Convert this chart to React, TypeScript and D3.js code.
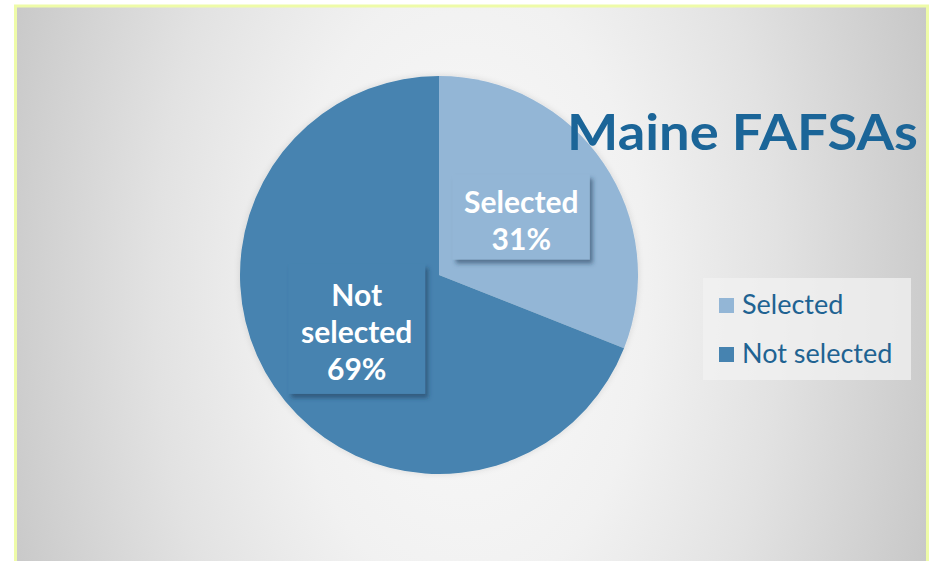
import React from "react";
import * as d3 from "d3";

const categories = ["Selected", "Not selected"];
const values = [31, 69];
const sliceColors = ["#93B6D6", "#4683B0"];
const labelLines = [["Selected", "31%"], ["Not", "selected", "69%"]];
const title = "Maine FAFSAs";

const W = 932;
const H = 561;
const FONT = "Lato, 'Open Sans', sans-serif";

export default function App() {
  const cx = 439;
  const cy = 275;
  const R = 199;
  const pie = d3.pie<number>().sort(null).startAngle(0).endAngle(2 * Math.PI);
  const arcs = pie(values);
  const arc = d3.arc<d3.PieArcDatum<number>>().innerRadius(0).outerRadius(R);
  const lineH = 37;
  const boxW = 137;

  return (
    <div style={{ position: "absolute", left: 0, top: 0 }}>
      <svg width={W} height={H} style={{ display: "block" }}>
        <defs>
          <radialGradient id="bg" gradientUnits="userSpaceOnUse" cx={466} cy={290} r={520}
            gradientTransform="translate(466 290) scale(1 1.7) translate(-466 -290)">
            <stop offset="0" stopColor="#fafafa" />
            <stop offset="0.35" stopColor="#f1f1f1" />
            <stop offset="0.6" stopColor="#e2e2e2" />
            <stop offset="1" stopColor="#c3c3c3" />
          </radialGradient>
          <filter id="boxShadow" x="-20%" y="-20%" width="150%" height="150%">
            <feDropShadow dx="3" dy="4" stdDeviation="2" floodColor="#1d3a55" floodOpacity="0.55" />
          </filter>
          <filter id="pieShadow" x="-10%" y="-10%" width="120%" height="120%">
            <feDropShadow dx="0" dy="0" stdDeviation="3" floodColor="#000" floodOpacity="0.12" />
          </filter>
        </defs>
        <rect x={0} y={0} width={W} height={H} fill="#ffffff" />
        <rect x={15.5} y={6} width={912} height={H} fill="url(#bg)" stroke="#EEFBA8" strokeWidth={3} />

        <g transform={`translate(${cx},${cy})`} filter="url(#pieShadow)">
          {arcs.map((a, i) => (
            <path key={categories[i]} d={arc(a) || ""} fill={sliceColors[i]} />
          ))}
        </g>

        {arcs.map((a, i) => {
          const [lx, ly] = arc.centroid(a);
          const lines = labelLines[i];
          const h = lines.length * lineH + (lines.length > 2 ? 19 : 11);
          const x0 = cx + lx - boxW / 2;
          const y0 = cy + ly - h / 2 - 2;
          return (
            <g key={"lab" + i}>
              <rect x={x0} y={y0} width={boxW} height={h} fill={sliceColors[i]} filter="url(#boxShadow)" />
              {lines.map((t, j) => (
                <text key={j} x={x0 + boxW / 2} y={y0 + (h - lines.length * lineH) / 2 + (j + 1) * lineH - 4}
                  textAnchor="middle" fill="#ffffff" fontFamily={FONT} fontWeight={700} fontSize={30}>
                  {t}
                </text>
              ))}
            </g>
          );
        })}

        <text x={567} y={150} fill="#1B6598" fontFamily={FONT} fontWeight={700} fontSize={50}
          textLength={351} lengthAdjust="spacingAndGlyphs">
          {title}
        </text>

        <rect x={703} y={278} width={208} height={102} fill="#f2f2f2" fillOpacity={0.75} />
        {categories.map((c, i) => (
          <g key={"leg" + i}>
            <rect x={719} y={298 + i * 49} width={15} height={15} fill={sliceColors[i]} />
            <text x={742} y={314 + i * 49} fill="#1F6392" fontFamily={FONT} fontSize={27}>
              {c}
            </text>
          </g>
        ))}
      </svg>
    </div>
  );
}
